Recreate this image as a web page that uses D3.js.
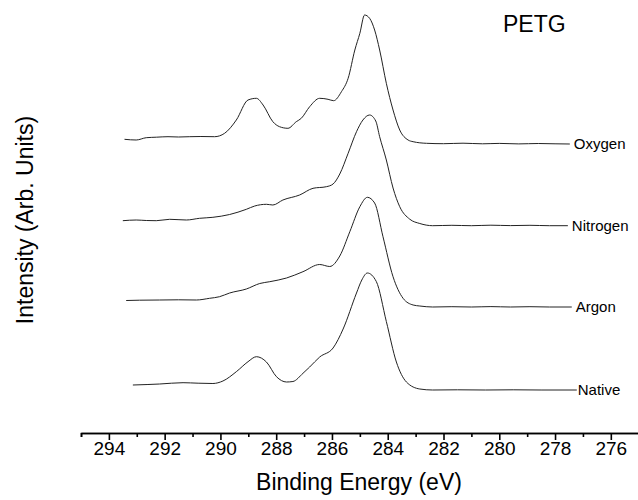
<!DOCTYPE html>
<html>
<head>
<title>PETG C1s</title>
<meta charset="utf-8" />
<style>

body {
  margin: 0;
  background: #fff;
}

.spectrum {
  fill: none;
  stroke: #222;
  stroke-width: 1px;
}

.axis path, .axis line {
  stroke: #000;
  stroke-width: 1.6px;
}

text {
  font-family: "Liberation Sans", Arial, sans-serif;
  fill: #000;
}

</style>
</head>
<body>
<script src="https://cdn.jsdelivr.net/npm/d3@7/dist/d3.min.js"></script>
<script>

// Spectra: [binding energy (eV), intensity above own baseline]
var oxygen = [[293.44,4.7],[293.02,4.0],[292.66,6.3],[292.3,6.8],[291.88,7.3],[291.5,7.0],[291.1,7.3],[290.7,7.5],
  [290.21,7.3],[289.85,10.7],[289.43,24],[289.01,44],[288.71,45.7],[288.47,39],[288.12,22.3],[287.88,17.3],
  [287.58,15.7],[287.28,22.3],[287.10,25.7],[286.80,37.3],[286.44,45.7],[286.14,44.7],[285.94,43.3],[285.66,52.3],
  [285.42,65.7],[285.18,94],[285.00,110.7],[284.83,129],[284.65,125.7],[284.47,114],[284.29,94],[284.05,60.7],
  [283.81,34],[283.57,14],[283.27,4],[283.09,2.3],[282.61,0.7],[282.0,0.3],[281.3,0.8],[280.6,0.2],[280.0,0.6],
  [279.3,0.1],[278.6,0.5],[278.0,0.2],[277.47,0]];

var nitrogen = [[293.50,5],[293.02,5.7],[292.66,5.2],[292.30,5],[291.82,6.4],[291.22,5.7],[290.75,7.4],[290.27,8.4],
  [289.67,11.2],[289.07,16.4],[288.77,19.7],[288.35,21.4],[288.12,20.7],[287.76,25.7],[287.16,30.7],[286.68,37.4],
  [286.20,39],[285.96,41.7],[285.72,51.7],[285.42,72.4],[285.12,94],[284.89,105.7],[284.65,110.7],[284.43,104.7],
  [284.29,89],[284.05,65.7],[283.81,37.7],[283.57,19],[283.21,6.5],[282.85,2.2],[282.39,0],[281.7,0.4],[281.0,0],
  [280.3,0.5],[279.6,0.1],[278.9,0.4],[278.2,0],[277.54,0]];

var argon = [[293.38,6.5],[292.9,6.8],[292.18,7],[291.5,7.2],[290.86,7],[290.39,8.7],[290.03,10.3],[289.67,14],
  [289.07,18],[288.59,23.5],[288.23,25.3],[287.63,29],[287.04,35.3],[286.44,42.5],[286.08,40.5],[285.72,51],
  [285.36,75.3],[285.00,100.3],[284.73,109.7],[284.47,104],[284.17,70.3],[283.81,30.3],[283.45,8.7],[283.09,2],
  [282.85,1],[282.39,0],[281.7,0.3],[281.0,0],[280.3,0.4],[279.6,0],[278.9,0.3],[278.2,0],[277.40,0]];

var native = [[293.14,5],[292.6,5.5],[292.18,6],[291.34,7.3],[290.8,6.8],[290.27,6.5],[289.91,9],[289.43,18.3],
  [289.01,28.3],[288.71,33.3],[288.35,28],[287.99,13.3],[287.63,8],[287.40,8.5],[287.04,16.7],[286.80,23],
  [286.44,33],[285.96,42],[285.60,61],[285.12,97],[284.93,110],[284.73,117],[284.41,108.5],[284.05,68.5],
  [283.69,28],[283.33,8],[282.85,1],[282.39,0],[281.5,0.2],[280.5,0],[279.5,0.2],[278.5,0],[277.22,0]];

// vertical stacking of the traces (arb. units)
var names = ["Oxygen", "Nitrogen", "Argon", "Native"];
var offsets = [289, 207.3, 126, 43];
var spectra = [oxygen, nitrogen, argon, native];

var majorTicks = [294, 292, 290, 288, 286, 284, 282, 280, 278, 276];
var minorTicks = [295, 293, 291, 289, 287, 285, 283, 281, 279, 277, 275];

var width = 638, height = 500;
var axisY = 433;

var svg = d3.select("body").append("svg")
    .attr("width", width)
    .attr("height", height);

var x = d3.scaleLinear().domain([295, 275]).range([81, 638.7]);
var y = d3.scaleLinear().domain([0, 433]).range([axisY, 0]);

var line = d3.line()
    .x(function(d) { return x(d[0]); })
    .y(function(d) { return y(d[1] + d.offset); })
    .curve(d3.curveMonotoneX);

spectra.forEach(function(s, i) {
    var pts = s.map(function(p) { var q = [p[0], p[1]]; q.offset = offsets[i]; return q; });
    svg.append("path")
        .attr("class", "spectrum")
        .attr("d", line(pts));
    var last = s[s.length - 1];
    svg.append("text")
        .attr("x", x(last[0]) + (i === 3 ? 1 : 4))
        .attr("y", y(last[1] + offsets[i]))
        .attr("dy", ".35em")
        .style("font-size", "15px")
        .text(names[i]);
});

// x axis: labelled even values, short unlabelled odd ticks
svg.append("g")
    .attr("class", "axis")
    .attr("transform", "translate(0," + axisY + ")")
    .call(d3.axisBottom(x).tickValues(minorTicks).tickSize(4).tickFormat(""));

svg.append("g")
    .attr("class", "axis")
    .attr("transform", "translate(0," + axisY + ")")
    .call(d3.axisBottom(x).tickValues(majorTicks).tickSize(7).tickPadding(2).tickSizeOuter(0))
    .selectAll("text")
    .style("font-size", "19px")
    .style("font-family", "'Liberation Sans', Arial, sans-serif");

svg.append("text")
    .attr("x", 359)
    .attr("y", 490)
    .attr("text-anchor", "middle")
    .style("font-size", "23px")
    .text("Binding Energy (eV)");

svg.append("text")
    .attr("transform", "translate(33,220) rotate(-90)")
    .attr("text-anchor", "middle")
    .style("font-size", "23px")
    .text("Intensity (Arb. Units)");

svg.append("text")
    .attr("x", 503)
    .attr("y", 32)
    .style("font-size", "23px")
    .text("PETG");

</script>
</body>
</html>
